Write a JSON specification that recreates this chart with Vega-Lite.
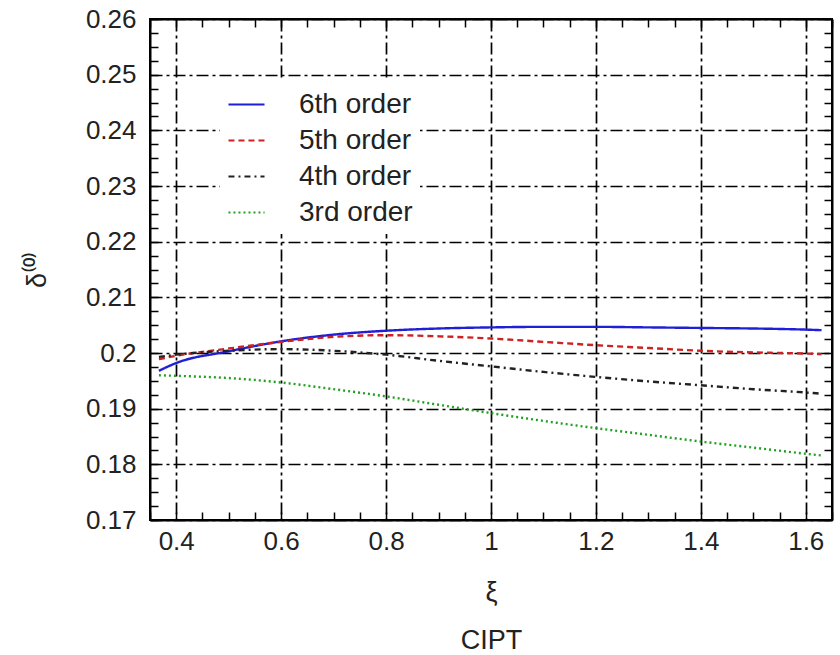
{
  "$schema": "https://vega.github.io/schema/vega-lite/v6.json",
  "width": 682,
  "height": 501,
  "autosize": {"type": "none"},
  "padding": {"left": 150, "top": 19, "right": 8, "bottom": 135},
  "background": "white",
  "config": {
    "font": "Liberation Sans",
    "view": {"stroke": "black", "strokeWidth": 2}
  },
  "data": {
    "values": [
      {"xi": 0.367, "v": 0.1968, "s": "6th order"},
      {"xi": 0.4, "v": 0.1982, "s": "6th order"},
      {"xi": 0.5, "v": 0.2003, "s": "6th order"},
      {"xi": 0.6, "v": 0.2021, "s": "6th order"},
      {"xi": 0.7, "v": 0.2033, "s": "6th order"},
      {"xi": 0.8, "v": 0.2040, "s": "6th order"},
      {"xi": 0.9, "v": 0.2044, "s": "6th order"},
      {"xi": 1.0, "v": 0.2046, "s": "6th order"},
      {"xi": 1.1, "v": 0.2047, "s": "6th order"},
      {"xi": 1.2, "v": 0.2047, "s": "6th order"},
      {"xi": 1.3, "v": 0.2046, "s": "6th order"},
      {"xi": 1.4, "v": 0.2045, "s": "6th order"},
      {"xi": 1.5, "v": 0.2044, "s": "6th order"},
      {"xi": 1.6, "v": 0.2042, "s": "6th order"},
      {"xi": 1.63, "v": 0.2041, "s": "6th order"},
      {"xi": 0.367, "v": 0.1989, "s": "5th order"},
      {"xi": 0.4, "v": 0.1995, "s": "5th order"},
      {"xi": 0.5, "v": 0.2008, "s": "5th order"},
      {"xi": 0.6, "v": 0.2020, "s": "5th order"},
      {"xi": 0.7, "v": 0.2029, "s": "5th order"},
      {"xi": 0.8, "v": 0.2032, "s": "5th order"},
      {"xi": 0.9, "v": 0.2030, "s": "5th order"},
      {"xi": 1.0, "v": 0.2026, "s": "5th order"},
      {"xi": 1.1, "v": 0.2020, "s": "5th order"},
      {"xi": 1.2, "v": 0.2014, "s": "5th order"},
      {"xi": 1.3, "v": 0.2009, "s": "5th order"},
      {"xi": 1.4, "v": 0.2004, "s": "5th order"},
      {"xi": 1.5, "v": 0.2001, "s": "5th order"},
      {"xi": 1.6, "v": 0.1999, "s": "5th order"},
      {"xi": 1.63, "v": 0.1998, "s": "5th order"},
      {"xi": 0.367, "v": 0.1993, "s": "4th order"},
      {"xi": 0.4, "v": 0.1997, "s": "4th order"},
      {"xi": 0.5, "v": 0.2004, "s": "4th order"},
      {"xi": 0.6, "v": 0.2007, "s": "4th order"},
      {"xi": 0.7, "v": 0.2004, "s": "4th order"},
      {"xi": 0.8, "v": 0.1997, "s": "4th order"},
      {"xi": 0.9, "v": 0.1986, "s": "4th order"},
      {"xi": 1.0, "v": 0.1976, "s": "4th order"},
      {"xi": 1.1, "v": 0.1966, "s": "4th order"},
      {"xi": 1.2, "v": 0.1957, "s": "4th order"},
      {"xi": 1.3, "v": 0.1949, "s": "4th order"},
      {"xi": 1.4, "v": 0.1942, "s": "4th order"},
      {"xi": 1.5, "v": 0.1935, "s": "4th order"},
      {"xi": 1.6, "v": 0.1929, "s": "4th order"},
      {"xi": 1.63, "v": 0.1927, "s": "4th order"},
      {"xi": 0.367, "v": 0.1960, "s": "3rd order"},
      {"xi": 0.4, "v": 0.1959, "s": "3rd order"},
      {"xi": 0.5, "v": 0.1955, "s": "3rd order"},
      {"xi": 0.6, "v": 0.1947, "s": "3rd order"},
      {"xi": 0.7, "v": 0.1935, "s": "3rd order"},
      {"xi": 0.8, "v": 0.1922, "s": "3rd order"},
      {"xi": 0.9, "v": 0.1907, "s": "3rd order"},
      {"xi": 1.0, "v": 0.1892, "s": "3rd order"},
      {"xi": 1.1, "v": 0.1878, "s": "3rd order"},
      {"xi": 1.2, "v": 0.1865, "s": "3rd order"},
      {"xi": 1.3, "v": 0.1853, "s": "3rd order"},
      {"xi": 1.4, "v": 0.1841, "s": "3rd order"},
      {"xi": 1.5, "v": 0.1830, "s": "3rd order"},
      {"xi": 1.6, "v": 0.1819, "s": "3rd order"},
      {"xi": 1.63, "v": 0.1816, "s": "3rd order"}
    ]
  },
  "resolve": {"axis": {"x": "independent", "y": "independent"}},
  "layer": [
    {
      "mark": {"type": "line", "interpolate": "monotone", "strokeWidth": 2.4, "clip": true},
      "encoding": {
        "x": {
          "field": "xi", "type": "quantitative",
          "scale": {"domain": [0.35, 1.65], "nice": false, "zero": false},
          "axis": {
            "orient": "bottom",
            "values": [0.35,0.4,0.45,0.5,0.55,0.6,0.65,0.7,0.75,0.8,0.85,0.9,0.95,1.0,1.05,1.1,1.15,1.2,1.25,1.3,1.35,1.4,1.45,1.5,1.55,1.6,1.65],
            "labelExpr": "abs(round(datum.value*5) - datum.value*5) < 0.001 ? toString(round(datum.value*10)/10) : ''",
            "labelFontSize": 26, "labelColor": "#222", "labelPadding": 16, "labelFlush": false, "labelOverlap": false,
            "tickSize": -8, "tickColor": "black", "tickWidth": 1.5,
            "grid": true, "gridColor": "black", "gridWidth": 1.7, "gridDash": [12, 4, 3, 4],
            "gridOpacity": {"condition": {"test": "abs(round(datum.value*5) - datum.value*5) < 0.001", "value": 1}, "value": 0},
            "domain": true, "domainColor": "black", "domainWidth": 2,
            "title": ["ξ", "CIPT"], "titleFontSize": 27, "titleFontWeight": "normal", "titleColor": "#222",
            "titleLineHeight": 48, "titlePadding": 25
          }
        },
        "y": {
          "field": "v", "type": "quantitative",
          "scale": {"domain": [0.17, 0.26], "nice": false, "zero": false},
          "axis": {
            "orient": "left",
            "values": [0.17,0.1725,0.175,0.1775,0.18,0.1825,0.185,0.1875,0.19,0.1925,0.195,0.1975,0.2,0.2025,0.205,0.2075,0.21,0.2125,0.215,0.2175,0.22,0.2225,0.225,0.2275,0.23,0.2325,0.235,0.2375,0.24,0.2425,0.245,0.2475,0.25,0.2525,0.255,0.2575,0.26],
            "labelExpr": "abs(round(datum.value*100) - datum.value*100) < 0.001 ? toString(round(datum.value*100)/100) : ''",
            "labelFontSize": 26, "labelColor": "#222", "labelPadding": 22, "labelFlush": false, "labelOverlap": false,
            "tickSize": -8, "tickColor": "black", "tickWidth": 1.5,
            "grid": true, "gridColor": "black", "gridWidth": 1.7, "gridDash": [12, 4, 3, 4],
            "gridOpacity": {"condition": {"test": "abs(round(datum.value*100) - datum.value*100) < 0.001", "value": 1}, "value": 0},
            "domain": true, "domainColor": "black", "domainWidth": 2,
            "title": "δ⁽⁰⁾", "titleFontSize": 27, "titleFontWeight": "normal", "titleColor": "#222",
            "titlePadding": 34
          }
        },
        "color": {
          "field": "s", "type": "nominal",
          "scale": {"domain": ["6th order", "5th order", "4th order", "3rd order"], "range": ["#1f1fd6", "#cc2222", "#222222", "#22a022"]},
          "legend": {
            "title": null, "orient": "none", "legendX": 70, "legendY": 59,
            "labelFontSize": 28, "labelColor": "#222", "symbolType": "stroke", "symbolSize": 1300,
            "symbolStrokeWidth": 2, "rowPadding": 2, "labelOffset": 33, "fillColor": "white", "padding": 7
          }
        },
        "strokeDash": {
          "field": "s", "type": "nominal",
          "scale": {"domain": ["6th order", "5th order", "4th order", "3rd order"], "range": [[1, 0], [6, 4], [6, 4, 2, 4], [2, 3]]},
          "legend": {
            "title": null, "orient": "none", "legendX": 70, "legendY": 59,
            "labelFontSize": 28, "labelColor": "#222", "symbolType": "stroke", "symbolSize": 1300,
            "symbolStrokeWidth": 2, "rowPadding": 2, "labelOffset": 33, "fillColor": "white", "padding": 7
          }
        }
      }
    },
    {
      "mark": {"type": "line", "opacity": 0},
      "encoding": {
        "x": {
          "field": "xi", "type": "quantitative",
          "axis": {
            "orient": "top",
            "values": [0.35,0.4,0.45,0.5,0.55,0.6,0.65,0.7,0.75,0.8,0.85,0.9,0.95,1.0,1.05,1.1,1.15,1.2,1.25,1.3,1.35,1.4,1.45,1.5,1.55,1.6,1.65],
            "labels": false, "tickSize": -8, "tickColor": "black", "tickWidth": 1.5,
            "grid": false, "domain": true, "domainColor": "black", "domainWidth": 2, "title": null
          }
        },
        "y": {
          "field": "v", "type": "quantitative",
          "axis": {
            "orient": "right",
            "values": [0.17,0.1725,0.175,0.1775,0.18,0.1825,0.185,0.1875,0.19,0.1925,0.195,0.1975,0.2,0.2025,0.205,0.2075,0.21,0.2125,0.215,0.2175,0.22,0.2225,0.225,0.2275,0.23,0.2325,0.235,0.2375,0.24,0.2425,0.245,0.2475,0.25,0.2525,0.255,0.2575,0.26],
            "labels": false, "tickSize": -8, "tickColor": "black", "tickWidth": 1.5,
            "grid": false, "domain": true, "domainColor": "black", "domainWidth": 2, "title": null
          }
        },
        "detail": {"field": "s", "type": "nominal"}
      }
    }
  ]
}
